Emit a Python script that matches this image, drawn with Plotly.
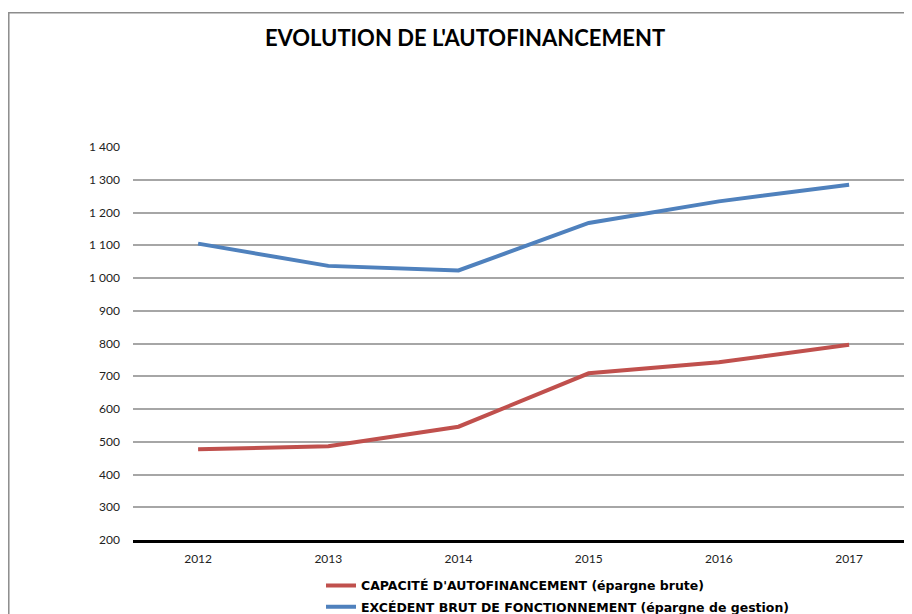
import plotly.graph_objects as go

years = ["2012", "2013", "2014", "2015", "2016", "2017"]
caf = [477, 486, 546, 709, 743, 796]
ebf = [1105, 1037, 1023, 1168, 1234, 1285]
series_names = ["CAPACITÉ D'AUTOFINANCEMENT (épargne brute)",
                "EXCÉDENT BRUT DE FONCTIONNEMENT (épargne de gestion)"]
y_ticks = [200, 300, 400, 500, 600, 700, 800, 900, 1000, 1100, 1200, 1300, 1400]

# page body has an 8px offset; figure coordinates below are screen - 8
W, H = 912, 614
L, R, T, B = 125, 0, 139, 80
pw, ph = W - L - R, H - T - B
band = 130.2

fig = go.Figure()
fig.add_trace(go.Scatter(x=years, y=caf, mode="lines", name="<b>" + series_names[0] + "</b>",
                         line=dict(color="#c0504d", width=4), legendgroup="a"))
fig.add_trace(go.Scatter(x=years, y=ebf, mode="lines", name="<b>" + series_names[1] + "</b>",
                         line=dict(color="#4f81bd", width=4), legendgroup="b"))

fig.update_layout(
    width=W, height=H,
    margin=dict(l=L, r=R, t=T, b=B),
    paper_bgcolor="white", plot_bgcolor="white",
    separators=", ",
    title=dict(text="<b>EVOLUTION DE L'AUTOFINANCEMENT</b>",
               font=dict(family="Lato", size=22, color="black"),
               x=457 / W, xanchor="center", y=1 - 30 / H, yanchor="middle"),
    xaxis=dict(type="category", range=[-0.5, -0.5 + pw / band],
               showline=True, linecolor="black", linewidth=3,
               showgrid=False, ticks="", ticklabelstandoff=6,
               tickfont=dict(family="Lato", size=12, color="#222")),
    yaxis=dict(range=[200, 1400], tickvals=y_ticks, tickformat=",d",
               showgrid=True, gridcolor="#a6a6a6", gridwidth=1.5,
               zeroline=False, showline=False, ticks="",
               ticklabelstandoff=12,
               tickfont=dict(family="Lato", size=12, color="#222")),
    legend=dict(orientation="v", x=(313 - L) / pw, xanchor="left",
                y=(H - B - 565) / ph, yanchor="top",
                traceorder="grouped", tracegroupgap=2,
                font=dict(family="DejaVu Sans", size=12.5, color="black"),
                bgcolor="rgba(0,0,0,0)"),
    shapes=[dict(type="rect", xref="paper", yref="paper",
                 x0=(0 - L) / pw + 0.001, x1=1.05,
                 y0=-0.5, y1=(H - B - 4) / ph,
                 line=dict(color="#8c8c8c", width=1.5), layer="below")],
)

fig.write_html("out.html")
